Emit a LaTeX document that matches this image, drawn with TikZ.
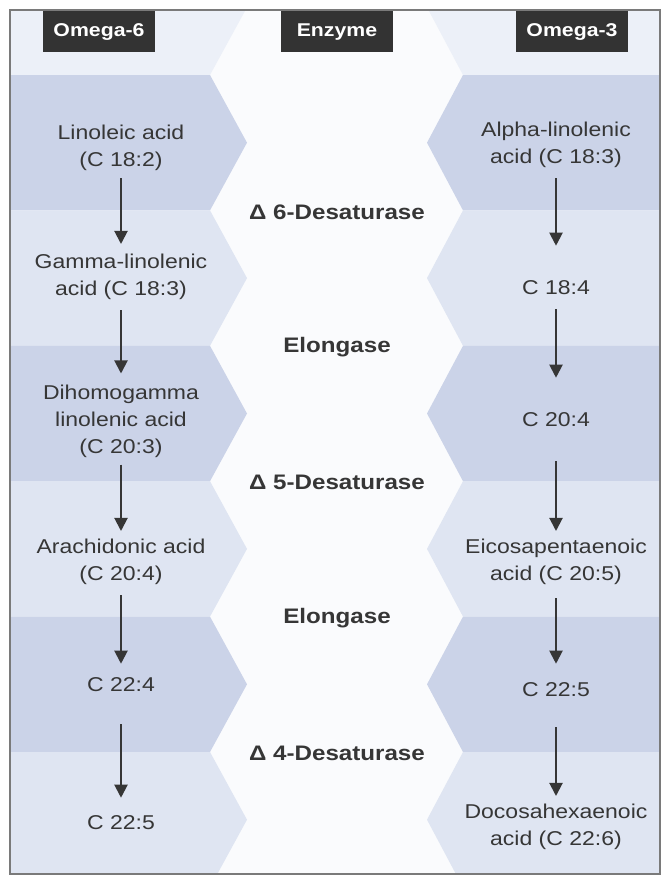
\documentclass[tikz,border=0pt]{standalone}
\usepackage{fontspec}
\setmainfont{Liberation Sans}[FakeStretch=1.15]
\usepackage{xcolor}
\usepackage{tikz}
\usetikzlibrary{arrows.meta}

\definecolor{bandA}{HTML}{CBD3E8}
\definecolor{bandB}{HTML}{DFE5F2}
\definecolor{bandTop}{HTML}{ECF0F8}
\definecolor{midwhite}{HTML}{FAFBFD}
\definecolor{inkgray}{HTML}{363636}
\definecolor{headfill}{HTML}{333333}
\definecolor{framegray}{HTML}{7A7A7A}

\begin{document}
\begin{tikzpicture}[
    x=1pt, y=-1pt,
    >={Triangle[width=13pt,length=13pt]},
    font=\fontsize{20}{27}\selectfont,
    head/.style={fill=headfill, text=white, minimum width=112pt, minimum height=41pt,
                 inner sep=0pt, font=\fontsize{18.5}{22}\selectfont\bfseries},
    fatty/.style={text=inkgray, align=center, inner sep=0pt},
    enz/.style={text=inkgray, inner sep=0pt, font=\fontsize{21}{25}\selectfont\bfseries},
    arr/.style={->, draw=inkgray, line width=2pt},
]
  \useasboundingbox (0,0) rectangle (670,883);
  % Background bands
  \fill[white] (0,0) rectangle (670,883);
  \begin{scope}
    \clip (10,10) rectangle (660,874);
    \fill[midwhite] (10,10) rectangle (660,874);
    \foreach \k/\c in {-1/bandTop,0/bandA,1/bandB,2/bandA,3/bandB,4/bandA,5/bandB} {
      \pgfmathsetmacro\ya{75+135.4*\k}
      \pgfmathsetmacro\yb{\ya+135.4}
      \pgfmathsetmacro\ym{\ya+67.7}
      \fill[\c] (0,\ya) -- (210,\ya) -- (247,\ym) -- (210,\yb) -- (0,\yb) -- cycle;
      \fill[\c] (670,\ya) -- (463,\ya) -- (427,\ym) -- (463,\yb) -- (670,\yb) -- cycle;
    }
  \end{scope}
  \draw[framegray, line width=1.5pt] (10,10) rectangle (660,874);
  % Headers
  \node[head] (h6) at (99,32) {Omega-6};
  \node[head] (hE) at (337,32) {Enzyme};
  \node[head] (h3) at (572,32) {Omega-3};
  % Omega-6 series
  \node[fatty] (l1) at (121,148) {Linoleic acid\\(C 18:2)};
  \node[fatty] (l2) at (121,277) {Gamma-linolenic\\acid (C 18:3)};
  \node[fatty] (l3) at (121,421) {Dihomogamma\\linolenic acid\\(C 20:3)};
  \node[fatty] (l4) at (121,562) {Arachidonic acid\\(C 20:4)};
  \node[fatty] (l5) at (121,685) {C 22:4};
  \node[fatty] (l6) at (121,823) {C 22:5};
  % Omega-3 series
  \node[fatty] (r1) at (556,145) {Alpha-linolenic\\acid (C 18:3)};
  \node[fatty] (r2) at (556,288) {C 18:4};
  \node[fatty] (r3) at (556,420) {C 20:4};
  \node[fatty] (r4) at (556,562) {Eicosapentaenoic\\acid (C 20:5)};
  \node[fatty] (r5) at (556,690) {C 22:5};
  \node[fatty] (r6) at (556,827) {Docosahexaenoic\\acid (C 22:6)};
  % Enzymes
  \node[enz] (e1) at (337,212) {Δ 6-Desaturase};
  \node[enz] (e2) at (337,347) {Elongase};
  \node[enz] (e3) at (337,482) {Δ 5-Desaturase};
  \node[enz] (e4) at (337,618) {Elongase};
  \node[enz] (e5) at (337,753) {Δ 4-Desaturase};
  % Arrows
  \draw[arr, shorten <=7pt, shorten >=10pt] (l1) -- (l2);
  \draw[arr, shorten <=10pt, shorten >=11pt] (l2) -- (l3);
  \draw[arr, shorten <=7pt, shorten >=8pt] (l3) -- (l4);
  \draw[arr, shorten <=10pt, shorten >=14pt] (l4) -- (l5);
  \draw[arr, shorten <=32pt, shorten >=18pt] (l5) -- (l6);
  \draw[arr, shorten <=10pt, shorten >=35pt] (r1) -- (r2);
  \draw[arr, shorten <=14pt, shorten >=35pt] (r2) -- (r3);
  \draw[arr, shorten <=34pt, shorten >=8pt] (r3) -- (r4);
  \draw[arr, shorten <=13pt, shorten >=19pt] (r4) -- (r5);
  \draw[arr, shorten <=30pt, shorten >=8pt] (r5) -- (r6);
\end{tikzpicture}
\end{document}
